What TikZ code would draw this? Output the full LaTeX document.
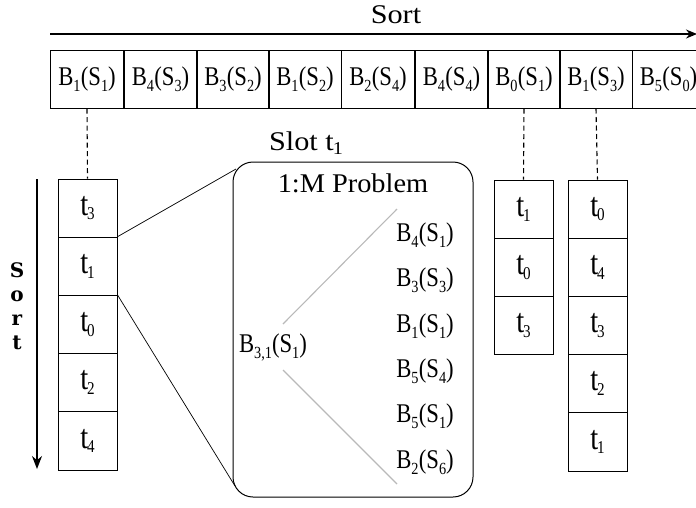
\documentclass[tikz,border=0pt]{standalone}
\usepackage{fontspec}
\setmainfont{Liberation Serif}
\newfontfamily\condfont{Liberation Serif}[FakeStretch=0.84]
\newfontfamily\widefont{Liberation Serif}[FakeStretch=1.12]
\newfontfamily\midfont{Liberation Serif}[FakeStretch=1.05]
\newfontfamily\vsfont{DejaVu Serif}
\usetikzlibrary{arrows.meta}
\newcommand{\sbx}[1]{\raisebox{-0.22em}{\fontsize{17}{17}\selectfont #1}}
\newcommand{\bs}[2]{B\sbx{#1}\kern0.3pt(S\sbx{#2})}
\newcommand{\tsb}[1]{\raisebox{-0.14em}{\fontsize{18}{18}\selectfont #1}}
\newcommand{\tsl}[1]{t\kern-1pt\tsb{#1}}
\begin{document}
\begin{tikzpicture}[x=1pt,y=-1pt,
  every node/.style={font=\fontsize{27}{30}\selectfont},
  blabel/.style={font=\condfont\fontsize{27}{30}\selectfont},
  tlabel/.style={font=\condfont\fontsize{34}{36}\selectfont},
  title/.style={font=\widefont\fontsize{27}{30}\selectfont},
  boxtitle/.style={font=\midfont\fontsize{27}{30}\selectfont},
  topcell/.style={draw, line width=1pt, minimum width=73, minimum height=58, inner sep=0pt, blabel},
  colcell/.style={draw, line width=1pt, minimum width=59, minimum height=58.2, inner sep=0pt, tlabel},
  leaf/.style={inner sep=0pt, blabel},
  dashlink/.style={line width=1.1pt, dash pattern=on 5pt off 3.5pt},
  zoomline/.style={line width=0.7pt},
  treeline/.style={gray!55, line width=1.1pt}]
\useasboundingbox (0,0) rectangle (696,507);
% top sort arrow
\coordinate (as) at (50,34);
\coordinate (ae) at (697,34);
\draw[line width=1.3pt, -{Stealth[length=11pt,width=9pt]}] (as) -- (ae);
\node[title] (sorttop) at (396,15) {Sort};
% top row
\foreach \i/\x/\a/\b in {1/87/1/1,2/160.5/4/3,3/233/3/2,4/305/1/2,5/378/2/4,6/451.5/4/4,7/524/0/1,8/596/1/3,9/668.5/5/0}{
  \node[topcell] (r\i) at (\x,79) {\bs{\a}{\b}};
}
% slot label
\node[title] (slot) at (306,143) {Slot t\kern-1pt\tsb{1}};
% left column
\foreach \k/\s in {0/3,1/1,2/0,3/2,4/4}{
  \node[colcell] (L\k) at (87.5,{179+29.1+58.2*\k}) {\tsl{\s}};
}
% middle column
\foreach \k/\s in {0/1,1/0,2/3}{
  \node[colcell] (M\k) at (523.5,{180+29.1+58.2*\k}) {\tsl{\s}};
}
% right column
\foreach \k/\s in {0/0,1/4,2/3,3/2,4/1}{
  \node[colcell] (R\k) at (597.5,{180+29.1+58.2*\k}) {\tsl{\s}};
}
% dashed links
\draw[dashlink] (r1.south) -- (L0.north);
\draw[dashlink] (r7.south) -- (M0.north);
\draw[dashlink] (r8.south) -- (R0.north);
% vertical sort arrow
\coordinate (vs) at (37,179);
\coordinate (ve) at (37,469);
\draw[line width=1.3pt, -{Stealth[length=13pt,width=10pt]}] (vs) -- (ve);
\node[font=\vsfont\bfseries\fontsize{20}{24}\selectfont, align=center, inner sep=0pt] (vsort) at (17,306) {S\\o\\r\\t};
% rounded problem box
\node[draw, line width=1pt, rounded corners=20pt, minimum width=240, minimum height=335, inner sep=0pt] (box) at (353,329.5) {};
\node[boxtitle] (title) at (353,183) {1:M Problem};
\coordinate (zt) at (236,169);
\coordinate (zb) at (235,486);
\draw[zoomline] (L1.north east) -- (zt);
\draw[zoomline] (L2.north east) -- (zb);
% tree
\node[leaf] (root) at (273,347) {B\sbx{3,1}(S\sbx{1})};
\foreach \k/\a/\b in {0/4/1,1/3/3,2/1/1,3/5/4,4/5/1,5/2/6}{
  \node[leaf] (c\k) at (425,{235+45.4*\k}) {\bs{\a}{\b}};
}
\coordinate (t1a) at (283,324);
\coordinate (t1b) at (397,209);
\coordinate (t2a) at (283,370);
\coordinate (t2b) at (397,484);
\draw[treeline] (t1a) -- (t1b);
\draw[treeline] (t2a) -- (t2b);
\end{tikzpicture}
\end{document}
